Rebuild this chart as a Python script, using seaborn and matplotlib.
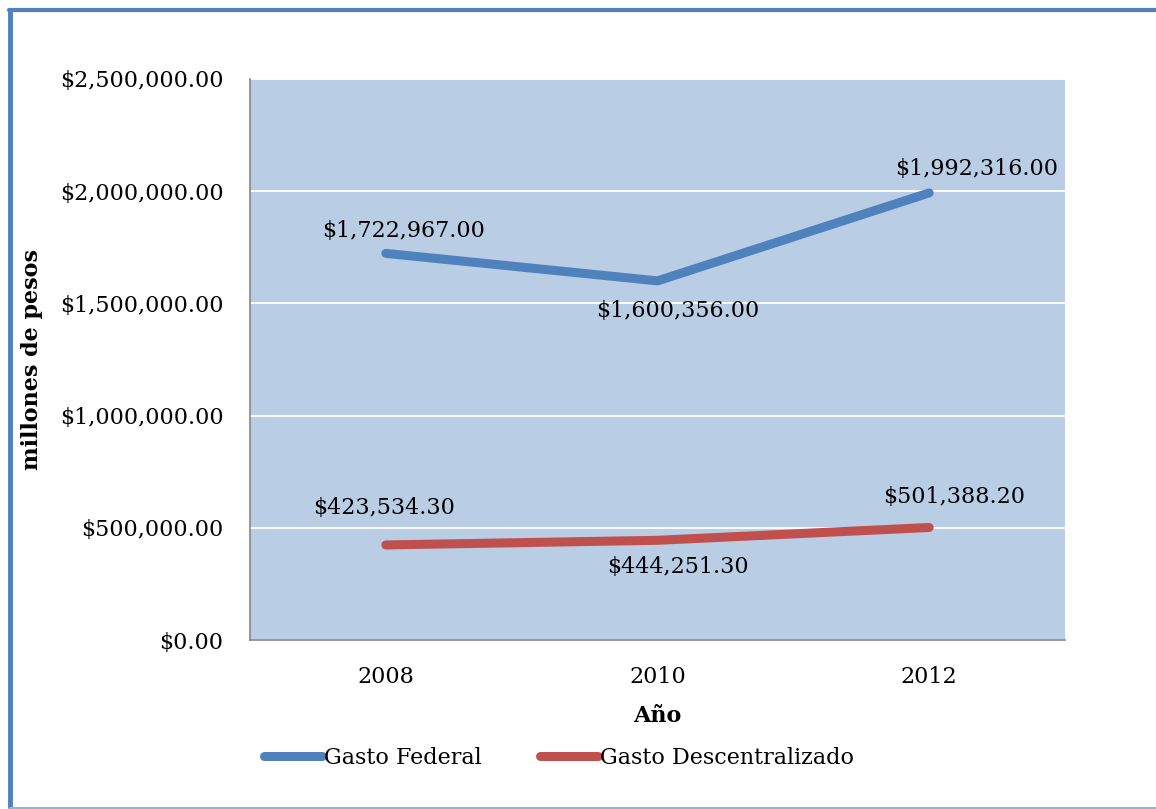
import matplotlib
matplotlib.use("Agg")
import matplotlib.pyplot as plt
from matplotlib.lines import Line2D
from matplotlib.ticker import FuncFormatter
import seaborn as sns
import pandas as pd

years = ["2008", "2010", "2012"]
gasto_federal = [1722967.00, 1600356.00, 1992316.00]
gasto_descentralizado = [423534.30, 444251.30, 501388.20]
series_names = ["Gasto Federal", "Gasto Descentralizado"]
y_ticks = [0, 500000, 1000000, 1500000, 2000000, 2500000]

df = pd.DataFrame({
    "Año": years * 2,
    "valor": gasto_federal + gasto_descentralizado,
    "serie": [series_names[0]] * 3 + [series_names[1]] * 3,
})

sns.set_theme(style="white")
plt.rcParams["font.family"] = ["DejaVu Serif"]
plt.rcParams["text.color"] = "black"
plt.rcParams["axes.labelcolor"] = "black"

colors = {"Gasto Federal": "#4F81BD", "Gasto Descentralizado": "#C0504D"}
fs = 16

fig = plt.figure(figsize=(11.56, 8.09), dpi=100)
W, H = 1156, 809
ax = fig.add_axes([250 / W, (H - 640) / H, 815 / W, 561 / H])
ax.set_facecolor("#B9CDE5")

sns.lineplot(data=df, x="Año", y="valor", hue="serie", palette=colors,
             linewidth=6.5, sort=False, ax=ax, legend=False,
             solid_capstyle="round")

ax.set_xlim(-0.5, 2.5)
ax.set_ylim(0, 2500000)
ax.set_yticks(y_ticks)
ax.yaxis.set_major_formatter(FuncFormatter(lambda v, p: f"${v:,.2f}"))
ax.grid(axis="y", color="white", linewidth=1.3)
ax.set_axisbelow(True)
for s in ["top", "right"]:
    ax.spines[s].set_visible(False)
for s in ["left", "bottom"]:
    ax.spines[s].set_color("#868686")
    ax.spines[s].set_linewidth(1.2)
ax.tick_params(axis="both", length=0, labelsize=fs, colors="black")
ax.tick_params(axis="y", pad=19)
ax.tick_params(axis="x", pad=19)
ax.set_xlabel("Año", fontsize=fs, fontweight="bold", labelpad=12)
ax.set_ylabel("millones de pesos", fontsize=fs, fontweight="bold", labelpad=12)

# value labels next to each point
fed_offsets = [(18, 22), (20, -30), (47, 24)]
desc_offsets = [(-2, 37), (20, -27), (25, 30)]
for vals, offs in ((gasto_federal, fed_offsets), (gasto_descentralizado, desc_offsets)):
    for i, (v, o) in enumerate(zip(vals, offs)):
        ax.annotate(f"${v:,.2f}", (i, v), xytext=o, textcoords="offset pixels",
                    ha="center", va="center", fontsize=fs, color="black")

# legend below the axes
handles = [Line2D([], [], color=colors[n], linewidth=6.5, solid_capstyle="round")
           for n in series_names]
fig.legend(handles, series_names, loc="center", bbox_to_anchor=(559 / W, (H - 758) / H),
           ncol=2, frameon=False, fontsize=fs, handlelength=2.6, handletextpad=0.1,
           columnspacing=2.6, labelcolor="black")

# frame lines around the chart
fig.add_artist(Line2D([10 / W, 10 / W], [(H - 10) / H, (H - 807) / H],
                      color="#4F81BD", linewidth=3.5, transform=fig.transFigure))
fig.add_artist(Line2D([9 / W, 1.0], [(H - 10) / H, (H - 10) / H],
                      color="#4F81BD", linewidth=3, transform=fig.transFigure))
fig.add_artist(Line2D([10 / W, 1.0], [(H - 807.5) / H, (H - 807.5) / H],
                      color="#95B3D7", linewidth=1.5, transform=fig.transFigure))

fig.savefig("out.png", dpi=100)
